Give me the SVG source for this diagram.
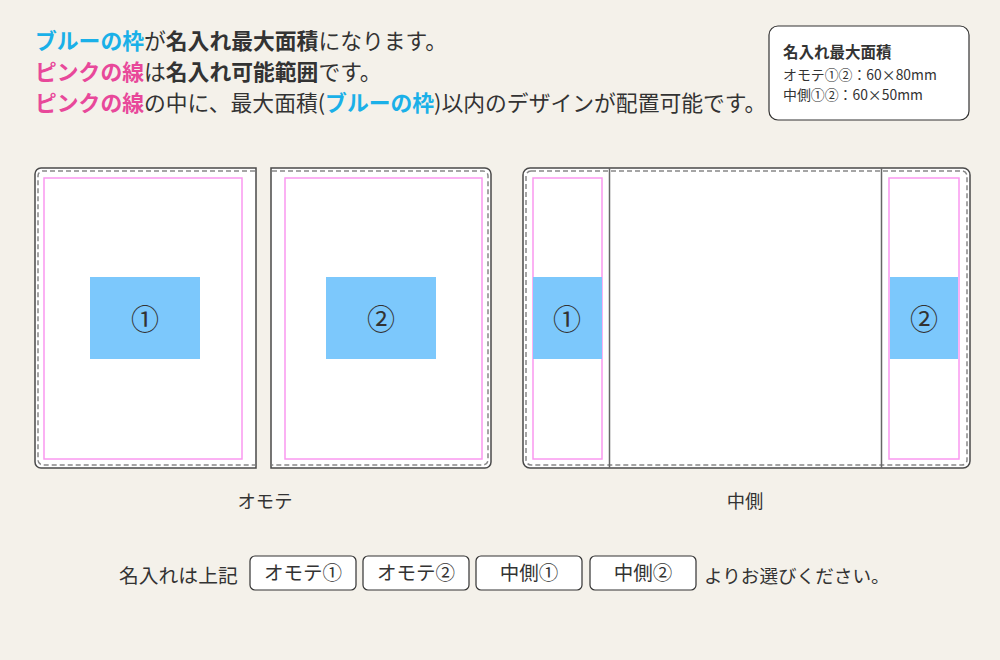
<svg xmlns="http://www.w3.org/2000/svg" width="1000" height="660" viewBox="0 0 1000 660">
<defs>
<style>
text{font-family:"Noto Sans CJK JP","Noto Sans",sans-serif;fill:#333}
.h{font-size:21.8px}
.b{font-weight:bold}
.bl{fill:#1ab0e8;font-weight:bold}
.pk{fill:#e8489a;font-weight:bold}
.outer{fill:#fff;stroke:#4a4a4a;stroke-width:1.5}
.dash{fill:none;stroke:#888;stroke-width:1.5;stroke-dasharray:5 3}
.pink{fill:none;stroke:#fa98f0;stroke-width:1.5}
.blue{fill:#7cc8fc}
.num{font-size:28px;text-anchor:middle}
.btn{fill:#fff;stroke:#333;stroke-width:1.2}
.bt{font-size:19.5px;text-anchor:middle}
.fold{stroke:#666;stroke-width:1.5}
</style>
</defs>
<rect width="1000" height="660" fill="#f4f1ea"/>
<g id="header">
<text class="h" x="35" y="49"><tspan class="bl">ブルーの枠</tspan>が<tspan class="b">名入れ最大面積</tspan>になります。</text>
<text class="h" x="35" y="80"><tspan class="pk">ピンクの線</tspan>は<tspan class="b">名入れ可能範囲</tspan>です。</text>
<text class="h" x="35" y="111"><tspan class="pk">ピンクの線</tspan>の中に、最大面積(<tspan class="bl">ブルーの枠</tspan>)以内のデザインが配置可能です。</text>
</g>
<g id="info">
<rect x="769" y="26" width="200" height="94" rx="9" fill="#fff" stroke="#333" stroke-width="1.2"/>
<text x="783" y="58" font-size="15.5" font-weight="bold">名入れ最大面積</text>
<text x="783" y="80" font-size="13.9">オモテ①②：60×80mm</text>
<text x="783" y="100" font-size="13.9">中側①②：60×50mm</text>
</g>
<g id="omote1">
<path class="outer" d="M256,168 H41 A6,6 0 0 0 35,174 V462 A6,6 0 0 0 41,468 H256 Z"/>
<path class="dash" d="M255,171 H43 A5,5 0 0 0 38,176 V460 A5,5 0 0 0 43,465 H255"/>
<rect class="pink" x="44" y="178" width="198" height="281"/>
<rect class="blue" x="90" y="277" width="110" height="82"/>
<text class="num" x="145" y="330">①</text>
</g>
<g id="omote2">
<path class="outer" d="M271,168 H485 A6,6 0 0 1 491,174 V462 A6,6 0 0 1 485,468 H271 Z"/>
<path class="dash" d="M272,171 H483 A5,5 0 0 1 488,176 V460 A5,5 0 0 1 483,465 H272"/>
<rect class="pink" x="285" y="178" width="197" height="281"/>
<rect class="blue" x="326" y="277" width="110" height="82"/>
<text class="num" x="381" y="330">②</text>
</g>
<g id="nakagawa">
<rect class="outer" x="523" y="168" width="447" height="300" rx="7"/>
<rect class="dash" x="526" y="171" width="441" height="294" rx="5"/>
<line class="fold" x1="609.5" y1="168" x2="609.5" y2="468"/>
<line class="fold" x1="881.5" y1="168" x2="881.5" y2="468"/>
<rect class="pink" x="533" y="178" width="69" height="281"/>
<rect class="pink" x="889" y="178" width="70" height="281"/>
<rect class="blue" x="533" y="277" width="69" height="82"/>
<rect class="blue" x="890" y="277" width="68" height="82"/>
<text class="num" x="567" y="330">①</text>
<text class="num" x="924" y="330">②</text>
</g>
<g id="labels">
<text x="265" y="508" font-size="18.3" text-anchor="middle">オモテ</text>
<text x="745" y="508" font-size="18.3" text-anchor="middle">中側</text>
</g>
<g id="choice">
<text x="119" y="583" font-size="19.8">名入れは上記</text>
<rect class="btn" x="250" y="556" width="106" height="34" rx="5"/>
<text class="bt" x="303" y="580">オモテ①</text>
<rect class="btn" x="363" y="556" width="106" height="34" rx="5"/>
<text class="bt" x="416" y="580">オモテ②</text>
<rect class="btn" x="476" y="556" width="106" height="34" rx="5"/>
<text class="bt" x="529" y="580">中側①</text>
<rect class="btn" x="590" y="556" width="106" height="34" rx="5"/>
<text class="bt" x="643" y="580">中側②</text>
<text x="704" y="583" font-size="18.6">よりお選びください。</text>
</g>
</svg>
